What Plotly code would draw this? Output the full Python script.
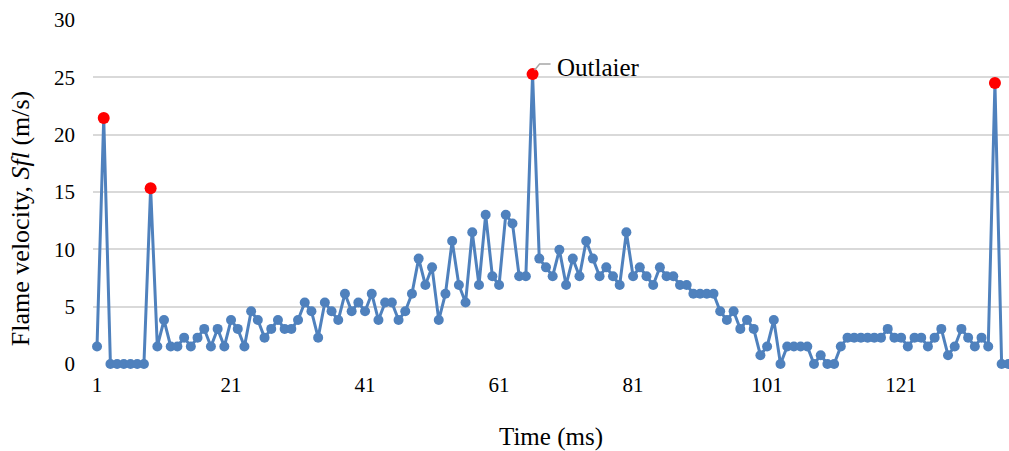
import plotly.graph_objects as go

time_ms = list(range(1, 138))
velocity = [
    1.53, 21.45, 0, 0, 0, 0, 0, 0, 15.32, 1.53,
    3.83, 1.53, 1.53, 2.30, 1.53, 2.30, 3.06, 1.53, 3.06, 1.53,
    3.83, 3.06, 1.53, 4.60, 3.83, 2.30, 3.06, 3.83, 3.06, 3.06,
    3.83, 5.36, 4.60, 2.30, 5.36, 4.60, 3.83, 6.13, 4.60, 5.36,
    4.60, 6.13, 3.83, 5.36, 5.36, 3.83, 4.60, 6.13, 9.19, 6.89,
    8.43, 3.83, 6.13, 10.72, 6.89, 5.36, 11.49, 6.89, 13.02, 7.66,
    6.89, 13.02, 12.26, 7.66, 7.66, 25.28, 9.19, 8.43, 7.66, 9.96,
    6.89, 9.19, 7.66, 10.72, 9.19, 7.66, 8.43, 7.66, 6.89, 11.49,
    7.66, 8.43, 7.66, 6.89, 8.43, 7.66, 7.66, 6.89, 6.89, 6.13,
    6.13, 6.13, 6.13, 4.60, 3.83, 4.60, 3.06, 3.83, 3.06, 0.77,
    1.53, 3.83, 0, 1.53, 1.53, 1.53, 1.53, 0, 0.77, 0,
    0, 1.53, 2.30, 2.30, 2.30, 2.30, 2.30, 2.30, 3.06, 2.30,
    2.30, 1.53, 2.30, 2.30, 1.53, 2.30, 3.06, 0.77, 1.53, 3.06,
    2.30, 1.53, 2.30, 1.53, 24.51, 0, 0,
]
outlier_times = [2, 9, 66, 135]
labelled_outlier = 66
x_ticks = [1, 21, 41, 61, 81, 101, 121]
y_ticks = [0, 5, 10, 15, 20, 25, 30]

BLUE = "#4F81BD"
FONT = "Liberation Serif, Times New Roman, serif"

out_y = [velocity[t - 1] for t in outlier_times]

fig = go.Figure()
fig.add_trace(go.Scatter(
    x=time_ms, y=velocity, mode="lines+markers",
    line=dict(color=BLUE, width=3),
    marker=dict(color=BLUE, size=10),
    cliponaxis=False,
    showlegend=False, hoverinfo="skip",
))
fig.add_trace(go.Scatter(
    x=outlier_times, y=out_y, mode="markers",
    marker=dict(color="#FF0000", size=12),
    cliponaxis=False,
    showlegend=False, hoverinfo="skip",
))

ly = velocity[labelled_outlier - 1]
# bent leader line anchored at the outlier point (pixel offsets)
fig.add_shape(
    type="path", xref="x", yref="y",
    xsizemode="pixel", ysizemode="pixel",
    xanchor=labelled_outlier, yanchor=ly,
    path="M 2,4 L 7,10 L 18,10",
    line=dict(color="#A6A6A6", width=1.5),
)
fig.add_annotation(
    x=labelled_outlier, y=ly, xref="x", yref="y",
    text="Outlaier", showarrow=False,
    xanchor="left", yanchor="middle",
    xshift=22, yshift=7,
    font=dict(family=FONT, size=25, color="#000000"),
)
# y-axis title (placed as in the original, slightly below plot centre)
fig.add_annotation(
    x=-0.0797, y=0.424, xref="paper", yref="paper",
    text="Flame velocity, <i>Sfl</i> (m/s)", showarrow=False,
    textangle=-90, xanchor="center", yanchor="middle",
    font=dict(family=FONT, size=26, color="#000000"),
)

fig.update_layout(
    width=1009, height=451,
    margin=dict(l=93, r=0, t=20, b=87),
    paper_bgcolor="white", plot_bgcolor="white",
    font=dict(family=FONT, color="#000000"),
)
fig.update_xaxes(
    range=[0.4, 137.1],
    tickvals=x_ticks, ticktext=[str(v) for v in x_ticks],
    showgrid=False, zeroline=False, showline=False,
    tickfont=dict(family=FONT, size=21, color="#000000"),
    ticklabelstandoff=6,
    title=dict(text="Time (ms)", font=dict(family=FONT, size=25, color="#000000"), standoff=31),
)
fig.update_yaxes(
    range=[0, 30],
    tickvals=y_ticks,
    showgrid=True, gridcolor="#D9D9D9", gridwidth=1.5,
    zeroline=False, showline=False,
    tickfont=dict(family=FONT, size=21, color="#000000"),
    ticklabelstandoff=17,
)

fig.write_html("out.html")
